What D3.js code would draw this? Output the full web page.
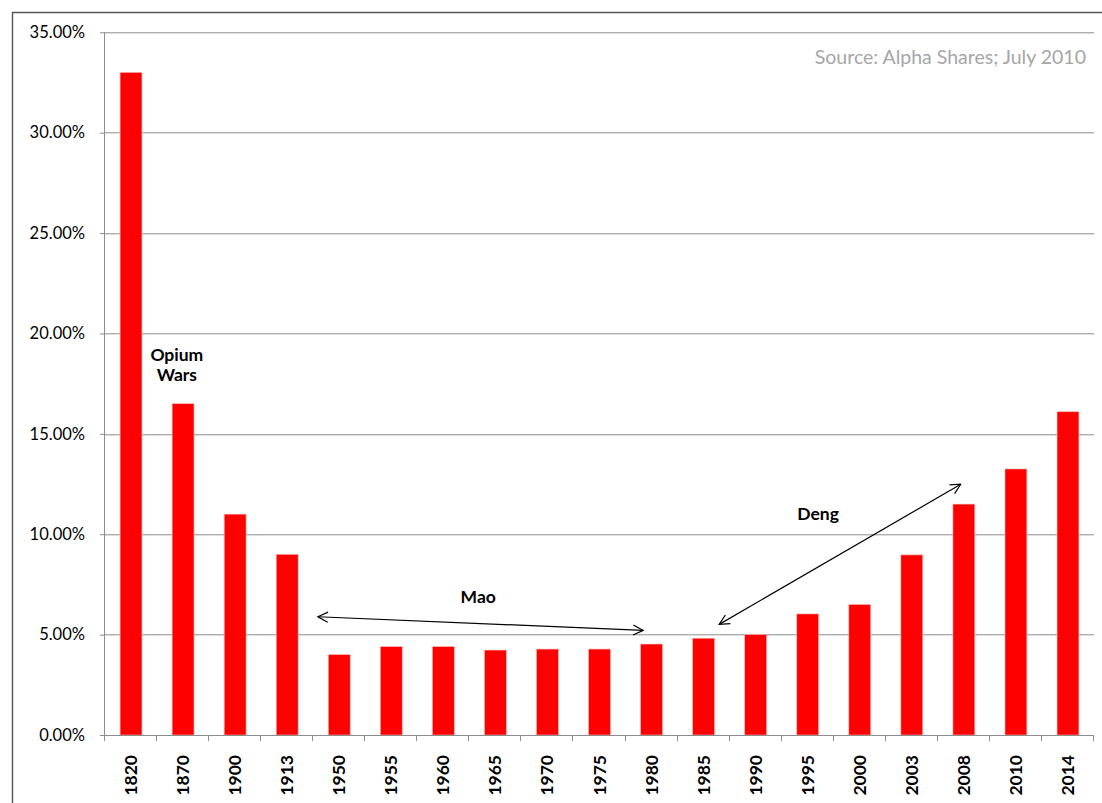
<!DOCTYPE html>
<html>
<head>
<meta charset="utf-8">
<script src="https://cdn.jsdelivr.net/npm/d3@7/dist/d3.min.js"></script>
<style>
  html, body { margin: 0; padding: 0; background: #fff; }
  svg { display: block; }
  text { font-family: Lato, "Open Sans", sans-serif; }
</style>
</head>
<body>
<svg id="chart" width="1102" height="803"></svg>
<script>
// Share of world GDP, China
const years = ["1820","1870","1900","1913","1950","1955","1960","1965","1970","1975",
               "1980","1985","1990","1995","2000","2003","2008","2010","2014"];
const shares = [33.0, 16.5, 11.0, 9.0, 4.0, 4.4, 4.4, 4.23, 4.28, 4.28,
                4.53, 4.82, 5.0, 6.03, 6.5, 8.97, 11.5, 13.25, 16.1];
const yTicks = [0, 5, 10, 15, 20, 25, 30, 35];
const sourceNote = "Source: Alpha Shares; July 2010";

// Annotations, placed in data space: x in category-index units, y in percent
const textNotes = [
  { lines: ["Opium", "Wars"], x: 1.38, y: 19.0 },
  { lines: ["Mao"], x: 7.17, y: 6.9 },
  { lines: ["Deng"], x: 13.7, y: 11.06 }
];
const arrows = [
  { x1: 4.09, y1: 5.89, x2: 10.34, y2: 5.21 },   // Mao era
  { x1: 11.8, y1: 5.51, x2: 16.44, y2: 12.49 }   // Deng era
];

const svg = d3.select("#chart");
const margin = { left: 105, top: 32.3 };
const plotW = 1094 - margin.left;
const plotH = 735 - margin.top;

// Outer frame (top and left edges visible)
svg.append("path")
  .attr("d", "M12.5,803 L12.5,12.5 L1102,12.5")
  .attr("fill", "none").attr("stroke", "#555").attr("stroke-width", 1.4);

const g = svg.append("g").attr("transform", `translate(${margin.left},${margin.top})`);

const x = d3.scaleBand().domain(years).range([0, plotW]).paddingInner(0.58).paddingOuter(0.29);
const xi = d3.scaleLinear().domain([0, years.length]).range([0, plotW]);
const y = d3.scaleLinear().domain([0, 35]).range([plotH, 0]);

// Gridlines
g.append("g").selectAll("line").data(yTicks.filter(d => d > 0)).join("line")
  .attr("x1", 0).attr("x2", plotW)
  .attr("y1", d => Math.round(y(d)) + 0.5).attr("y2", d => Math.round(y(d)) + 0.5)
  .attr("stroke", "#8c8c8c").attr("stroke-width", 1);

// Bars
g.append("g").selectAll("rect").data(years).join("rect")
  .attr("x", d => x(d))
  .attr("width", x.bandwidth())
  .attr("y", (d, i) => y(shares[i]))
  .attr("height", (d, i) => plotH - y(shares[i]))
  .attr("fill", "#ff0000")
  .attr("stroke", "#ffb3b3").attr("stroke-width", 0.6);

// Y axis
const yAxis = d3.axisLeft(y).tickValues(yTicks).tickSize(5).tickPadding(15)
  .tickFormat(d => d.toFixed(2) + "%");
const ya = g.append("g").call(yAxis);
ya.select(".domain").attr("stroke", "#8c8c8c").attr("d", `M-0.5,0 L-0.5,${plotH}`);
ya.selectAll(".tick line").attr("stroke", "#8c8c8c");
ya.selectAll(".tick text").attr("font-size", 16.5).attr("fill", "#000")
  .attr("font-family", "Lato, 'Open Sans', sans-serif");

// X axis (ticks on band boundaries)
const xa = g.append("g").attr("transform", `translate(0,${plotH})`);
xa.append("line").attr("x1", -5).attr("x2", plotW).attr("y1", 0.5).attr("y2", 0.5)
  .attr("stroke", "#8c8c8c");
xa.selectAll("line.tk").data(d3.range(years.length + 1)).join("line").attr("class", "tk")
  .attr("x1", d => Math.round(xi(d)) - 0.5).attr("x2", d => Math.round(xi(d)) - 0.5)
  .attr("y1", 0).attr("y2", 6).attr("stroke", "#8c8c8c");
xa.selectAll("text").data(years).join("text")
  .attr("transform", d => `translate(${x(d) + x.bandwidth() / 2 + 6},${20}) rotate(-90)`)
  .attr("text-anchor", "end")
  .attr("font-size", 17.5).attr("font-weight", "bold").attr("fill", "#000")
  .text(d => d);

// Arrow markers (open chevron heads)
const defs = svg.append("defs");
defs.append("marker").attr("id", "head").attr("viewBox", "0 0 12 12")
  .attr("refX", 11).attr("refY", 6).attr("markerWidth", 12).attr("markerHeight", 12)
  .attr("markerUnits", "userSpaceOnUse").attr("orient", "auto-start-reverse")
  .append("path").attr("d", "M1,1 L11,6 L1,11").attr("fill", "none")
  .attr("stroke", "#000").attr("stroke-width", 1.2);

g.append("g").selectAll("line").data(arrows).join("line")
  .attr("x1", d => xi(d.x1)).attr("y1", d => y(d.y1))
  .attr("x2", d => xi(d.x2)).attr("y2", d => y(d.y2))
  .attr("stroke", "#000").attr("stroke-width", 1.2)
  .attr("marker-start", "url(#head)").attr("marker-end", "url(#head)");

// Annotation labels
const notes = g.append("g").selectAll("text").data(textNotes).join("text")
  .attr("x", d => xi(d.x)).attr("y", d => y(d.y))
  .attr("text-anchor", "middle").attr("dominant-baseline", "central")
  .attr("font-size", 17.5).attr("font-weight", "bold").attr("fill", "#000");
notes.selectAll("tspan").data(d => d.lines.map((l, k) => ({ l, k, x: d.x }))).join("tspan")
  .attr("x", d => xi(d.x)).attr("dy", d => d.k === 0 ? 0 : 20.8).text(d => d.l);

// Source note
svg.append("text").attr("x", 1086).attr("y", 56)
  .attr("text-anchor", "end").attr("dominant-baseline", "central")
  .attr("font-size", 19.5).attr("fill", "#a6a6a6").text(sourceNote);
</script>
</body>
</html>
